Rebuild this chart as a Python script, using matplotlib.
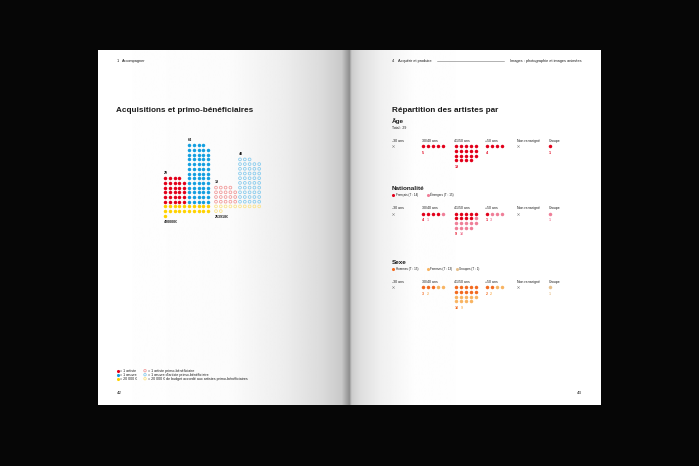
"""
Book spread: acquisitions / primo-bénéficiaires (left) and
répartition des artistes (right), drawn as dot charts.
"""

import numpy as np
import matplotlib
matplotlib.use("Agg")
import matplotlib.pyplot as plt

plt.rcParams["font.family"] = ["Liberation Sans Narrow", "Liberation Sans", "DejaVu Sans"]

# ── Data: left page ──────────────────────────────────────────────────────────
acq_artistes = 29
acq_oeuvres = 64
acq_budget = 420000
primo_artistes = 19
primo_oeuvres = 48
primo_budget = 253918
BUDGET_UNIT = 20000

# ── Data: right page ─────────────────────────────────────────────────────────
age_groups = ["-30 ans", "30/40 ans", "41/50 ans", "+50 ans", "Non renseigné", "Groupe"]
age_counts = [0, 5, 19, 4, 0, 1]
nat_francais = [0, 4, 9, 1, 0, 0]
nat_etrangers = [0, 1, 10, 3, 0, 1]
sexe_hommes = [0, 3, 10, 2, 0, 0]
sexe_femmes = [0, 2, 9, 2, 0, 0]
sexe_groupes = [0, 0, 0, 0, 0, 1]

# ── Palette ──────────────────────────────────────────────────────────────────
C_BG = "#060606"
C_TEXT = "#1a1a1a"
RED = "#E2001A"
BLUE = "#149FE0"
YELLOW = "#FFD200"
PINK_R = "#F29A9A"
LBLUE_R = "#88CCEE"
LYEL_R = "#FBE38A"
ETR = "#EF7E98"
HOM = "#F26A1F"
FEM = "#F8B462"
GRP = "#E6C08C"

fig = plt.figure(figsize=(6.99, 4.66), dpi=100, facecolor=C_BG)
ax = fig.add_axes([0, 0, 1, 1], facecolor=C_BG)
ax.axis("off")

# ── Pages with spine shading ─────────────────────────────────────────────────
PT, PB = 50, 405
xl = np.linspace(98, 349, 400)
left_shade = np.interp(xl, [98, 230, 285, 322, 342, 349], [1, 0.985, 0.93, 0.86, 0.79, 0.58])
ax.imshow(left_shade[None, :], cmap="gray", vmin=0, vmax=1, aspect="auto",
          extent=(98, 349, PB, PT), interpolation="bilinear", zorder=1)
xr = np.linspace(349, 601, 400)
right_shade = np.interp(xr, [349, 351.5, 360, 380, 415, 601], [0.55, 0.80, 0.87, 0.94, 0.995, 1])
ax.imshow(right_shade[None, :], cmap="gray", vmin=0, vmax=1, aspect="auto",
          extent=(349, 601, PB, PT), interpolation="bilinear", zorder=1)
ax.set_xlim(0, 699)
ax.set_ylim(466, 0)


def txt(x, y, s, size=2.8, color=C_TEXT, weight="normal", ha="left", va="center"):
    ax.text(x, y, s, fontsize=size, color=color, fontweight=weight,
            ha=ha, va=va, zorder=4)


def dots(xs, ys, color, hollow=False, s=6.3):
    if hollow:
        ax.scatter(xs, ys, s=s * 0.62, facecolors="none", edgecolors=color,
                   linewidths=0.6, zorder=3)
    else:
        ax.scatter(xs, ys, s=s, c=color, linewidths=0, zorder=3)


# ── Left page ────────────────────────────────────────────────────────────────
txt(116.5, 61, "1", size=2.8)
txt(122, 61, "Accompagner", size=2.8)
txt(116, 110, "Acquisitions et primo-bénéficiaires", size=5.9, weight="bold")

SX, SY = 4.8, 4.7
BASE_Y = 201.7


def stack(x0, n, color, hollow, cols=5):
    full, rem = divmod(n, cols)
    xs, ys = [], []
    for r in range(full):
        for c in range(cols):
            xs.append(x0 + c * SX)
            ys.append(BASE_Y - r * SY)
    for c in range(rem):
        xs.append(x0 + c * SX)
        ys.append(BASE_Y - full * SY)
    dots(xs, ys, color, hollow)
    return min(ys)


def budget_rows(x0, n, color, hollow, cols=10):
    xs = [x0 + (i % cols) * SX for i in range(n)]
    ys = [BASE_Y + SY + (i // cols) * SY for i in range(n)]
    dots(xs, ys, color, hollow)
    return max(ys)


def group(x0, n_art, n_oeu, budget, colors, hollow):
    top_a = stack(x0, n_art, colors[0], hollow)
    top_o = stack(x0 + 5 * SX, n_oeu, colors[1], hollow)
    low = budget_rows(x0, budget // BUDGET_UNIT, colors[2], hollow)
    txt(x0 - 1, top_a - 5.6, str(n_art), size=2.6, weight="bold")
    txt(x0 + 5 * SX - 1, top_o - 5.6, str(n_oeu), size=2.6, weight="bold")
    txt(x0 - 1, low + 6.2, f"{budget}€", size=2.6, weight="bold")


group(165, acq_artistes, acq_oeuvres, acq_budget, [RED, BLUE, YELLOW], False)
group(216, primo_artistes, primo_oeuvres, primo_budget, [PINK_R, LBLUE_R, LYEL_R], True)

legend_rows = [
    (RED, "= 1 artiste", PINK_R, "= 1 artiste primo-bénéficiaire"),
    (BLUE, "= 1 œuvre", LBLUE_R, "= 1 œuvre d'artiste primo-bénéficiaire"),
    (YELLOW, "= 20 000 €", LYEL_R, "= 20 000 € de budget accordé aux artistes primo-bénéficiaires"),
]
for i, (c1, t1, c2, t2) in enumerate(legend_rows):
    y = 370.7 + i * 4
    dots([117.5], [y], c1, s=5)
    txt(120, y, t1, size=2.6)
    dots([145], [y], c2, hollow=True, s=5)
    txt(147.5, y, t2, size=2.6)

txt(116.5, 393, "42", size=3.2)

# ── Right page ───────────────────────────────────────────────────────────────
txt(392, 61, "4", size=2.8)
txt(397.5, 61, "Acquérir et produire", size=2.8)
ax.plot([437, 504], [61, 61], color="#777777", lw=0.4, zorder=3)
txt(582, 61, "Images : photographie et images animées", size=2.8, ha="right")
txt(392, 110, "Répartition des artistes par", size=5.9, weight="bold")
txt(582, 393, "43", size=3.2, ha="right")

COL_X = [393, 423.3, 456, 486.7, 518.3, 550]
RS = 4.75


def dot_section(y_lab, series, colors):
    y0 = y_lab + 5.5
    for j, x in enumerate(COL_X):
        txt(x - 1.5, y_lab, age_groups[j], size=2.5)
        vals = [s[j] for s in series]
        total = sum(vals)
        if total == 0:
            ax.scatter([x], [y0], marker="x", s=3, c="#8a8a8a", linewidths=0.35, zorder=3)
            continue
        k = 0
        for v, c in zip(vals, colors):
            xs = [x + ((k + i) % 5) * 5.0 for i in range(v)]
            ys = [y0 + ((k + i) // 5) * RS for i in range(v)]
            if v:
                dots(xs, ys, c, s=6.3)
            k += v
        rows = (total - 1) // 5 + 1
        y_num = y0 + (rows - 1) * RS + 6.4
        xx = x - 1.2
        for v, c in zip(vals, colors):
            if v:
                txt(xx, y_num, str(v), size=2.6, color=c, weight="bold")
                xx += 1.7 * len(str(v)) + 2.8


def section_legend(y, items):
    for x, c, label in items:
        dots([x], [y], c, s=5)
        txt(x + 2.2, y, label, size=2.2)


# Âge
txt(392, 121, "Âge", size=4.6, weight="bold")
txt(392, 128, f"Total : {sum(age_counts)}", size=2.5)
dot_section(140.7, [age_counts], [RED])

# Nationalité
txt(392, 188.3, "Nationalité", size=4.6, weight="bold")
section_legend(195, [
    (393.3, RED, f"Français (T : {sum(nat_francais)})"),
    (428.3, ETR, f"Étrangers (T : {sum(nat_etrangers)})"),
])
dot_section(208, [nat_francais, nat_etrangers], [RED, ETR])

# Sexe
txt(392, 262.3, "Sexe", size=4.6, weight="bold")
section_legend(269.3, [
    (393.3, HOM, f"Hommes (T : {sum(sexe_hommes)})"),
    (428.3, FEM, f"Femmes (T : {sum(sexe_femmes)})"),
    (457, GRP, f"Groupes (T : {sum(sexe_groupes)})"),
])
dot_section(281.7, [sexe_hommes, sexe_femmes, sexe_groupes], [HOM, FEM, GRP])

fig.savefig("out.png", dpi=100, facecolor=C_BG)
